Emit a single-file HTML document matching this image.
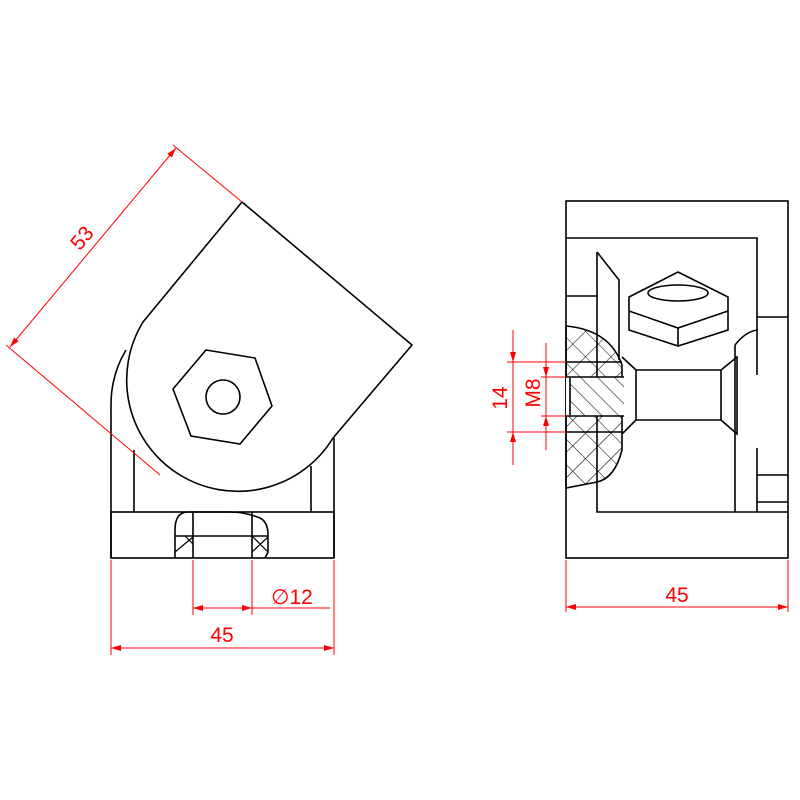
<!DOCTYPE html>
<html><head><meta charset="utf-8"><style>html,body{margin:0;padding:0;background:#fff}svg{display:block}</style></head>
<body>
<svg width="800" height="800" viewBox="0 0 800 800" xmlns="http://www.w3.org/2000/svg">
<defs>
<marker id="a" viewBox="0 0 10 6" refX="10" refY="3" markerWidth="10" markerHeight="6" orient="auto-start-reverse" markerUnits="userSpaceOnUse"><path d="M0,0 L10,3 L0,6 z" fill="#f00"/></marker>
<pattern id="h" width="18" height="18" patternUnits="userSpaceOnUse" patternTransform="rotate(45)"><path d="M0,0 V18 M0,0 H18" stroke="#000" stroke-width="1.1"/></pattern>
<pattern id="h2" width="12" height="12" patternUnits="userSpaceOnUse" patternTransform="rotate(45)"><path d="M0,0 H12" stroke="#000" stroke-width="1.1"/></pattern>
</defs>
<g fill="none" stroke="#000" stroke-width="1.6">
<!-- LEFT VIEW -->
<path d="M111,558 V405 Q111,375 126,350"/>
<path d="M242,202 L412,345 L333,438 M242,202 L143,322 A110,110 0 0 0 333,438"/>
<path d="M134,450 V512 M311,466 V512 M334,438 V558"/>
<rect x="111" y="512" width="223" height="46"/>
<path d="M175,558 V530 Q175,512 188,512 L230,512 Q245,512 260,518 Q268,522 268,535 V552 L265,558"/>
<path d="M193,512 V558 M252,512 V558 M175,536 H268"/>
<path d="M175,552 L193,537 M185,536 L193,544 M252,536 L268,552 M268,537 L252,552" stroke-width="1.2"/>
<polygon points="206,350 255,358 272,406 240,444 191,436 173,389"/>
<circle cx="223" cy="397" r="17"/>
<!-- RIGHT VIEW -->
<rect x="566" y="201" width="222" height="357"/>
<path d="M566,238 H757 V317 H788 M757,317 V375"/>
<path d="M566,296 H597 M597,252 V512 H788 M597,252 L619,280 V360"/>
<path d="M757,448 V512 M757,475 H788 M757,502 H788 M735,345 V512 M735,345 Q745,332 757,330"/>
<path d="M566,326 Q610,330 622,365 L622,450 Q615,478 597,482 L566,488 Z" fill="url(#h)"/>
<rect x="566" y="377" width="58" height="39" fill="#fff" stroke="none"/>
<rect x="570" y="377" width="54" height="39" fill="url(#h2)" stroke="none"/>
<path d="M566,377 H624 M566,416 H624 M570,378 V415 M566,362 H622 M566,432 H622"/>
<path d="M622,357 L636,370 V420 L622,434 M636,370 H721 V420 H636 M721,370 L737,357 V434 L721,420"/>
<path d="M678,272 L728,297 V330 L678,346 L629,330 V297 Z M629,311 L678,328 L728,311 M678,328 V346"/>
<path d="M648,293 A30,8 0 0 1 708,293 M648,293 A30,8 0 0 0 708,293"/>
</g>
<!-- DIMENSIONS -->
<g stroke="#f00" stroke-width="1" fill="none">
<path d="M173,145 L242,202 M6,345 L160,475"/>
<path d="M176,148 L10,347" marker-start="url(#a)" marker-end="url(#a)"/>
<path d="M111,560 V655 M334,560 V655"/>
<path d="M111,648 H334" marker-start="url(#a)" marker-end="url(#a)"/>
<path d="M193,560 V615 M252,560 V615"/>
<path d="M193,608 H252" marker-start="url(#a)" marker-end="url(#a)"/>
<path d="M252,608 H330"/>
<path d="M566,560 V612 M788,560 V612"/>
<path d="M566,607 H788" marker-start="url(#a)" marker-end="url(#a)"/>
<path d="M507,362 H566 M507,432 H566 M541,377 H566 M541,416 H566"/>
<path d="M513,330 V362" marker-end="url(#a)"/>
<path d="M513,465 V432" marker-end="url(#a)"/>
<path d="M513,362 V432"/>
<path d="M546,343 V377" marker-end="url(#a)"/>
<path d="M546,450 V416" marker-end="url(#a)"/>
<path d="M546,377 V416"/>
</g>
<g fill="#f00" font-family="Liberation Sans, sans-serif" font-size="21">
<text x="82" y="245" text-anchor="middle" transform="rotate(-50 82 238)">53</text>
<text x="222" y="642" text-anchor="middle">45</text>
<text x="677" y="602" text-anchor="middle">45</text>
<text x="292" y="604" text-anchor="middle">∅12</text>
<text x="500" y="405" text-anchor="middle" transform="rotate(-90 500 398)">14</text>
<text x="533" y="400" text-anchor="middle" transform="rotate(-90 533 393)">M8</text>
</g>
</svg>
</body></html>
